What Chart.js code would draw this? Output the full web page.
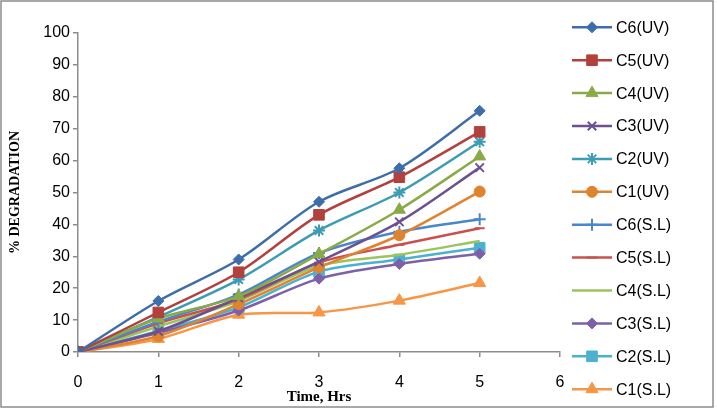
<!DOCTYPE html>
<html><head><meta charset="utf-8">
<script src="https://cdn.jsdelivr.net/npm/chart.js@4.4.1/dist/chart.umd.min.js"></script>
<style>html,body{margin:0;padding:0;background:#fff;}#wrap{width:717px;height:412px;}</style>
</head><body><div id="wrap"><canvas id="c" width="717" height="412"></canvas></div>
<script>
// ---- data ----
const hours = [0, 1, 2, 3, 4, 5];
const xTickValues = [0, 1, 2, 3, 4, 5, 6];
const yTickValues = [0, 10, 20, 30, 40, 50, 60, 70, 80, 90, 100];
const seriesNames = ['C6(UV)', 'C5(UV)', 'C4(UV)', 'C3(UV)', 'C2(UV)', 'C1(UV)',
                     'C6(S.L)', 'C5(S.L)', 'C4(S.L)', 'C3(S.L)', 'C2(S.L)', 'C1(S.L)'];
const c6UV = [0, 16.0, 29.0, 47.1, 57.6, 75.6];
const c5UV = [0, 12.4, 25.0, 43.0, 54.8, 69.0];
const c4UV = [0, 10.5, 17.5, 30.7, 44.6, 61.3];
const c3UV = [0, 6.5, 17.0, 28.3, 40.8, 57.8];
const c2UV = [0, 11.0, 22.7, 38.1, 50.0, 65.9];
const c1UV = [0, 5.0, 15.0, 26.5, 36.6, 50.3];
const c6SL = [0, 9.5, 18.0, 31.0, 37.7, 41.6];
const c5SL = [0, 9.0, 16.5, 28.0, 33.6, 38.8];
const c4SL = [0, 8.0, 16.0, 27.0, 30.5, 34.8];
const c3SL = [0, 6.0, 13.0, 23.0, 27.6, 30.8];
const c2SL = [0, 6.6, 14.0, 25.2, 29.0, 32.7];
const c1SL = [0, 4.1, 11.7, 12.4, 16.1, 21.6];

const seriesValues = [c6UV, c5UV, c4UV, c3UV, c2UV, c1UV, c6SL, c5SL, c4SL, c3SL, c2SL, c1SL];
const colors = ['#3E6DAA', '#B2403D', '#8AAA47', '#6B5190', '#3D9BB4', '#E0832F',
                '#4A86CC', '#C9504D', '#9CC35C', '#7E60A8', '#4AB1CF', '#F79646'];
const markers = [
  {s: 'rectRot', r: 5.5}, {s: 'rect', r: 7.5}, {s: 'triangle', r: 7}, {s: 'crossRot', r: 6, bw: 2}, {s: 'star', r: 6, bw: 2}, {s: 'circle', r: 5.5},
  {s: 'cross', r: 6, bw: 2}, {s: 'line', r: 5, bw: 2}, {s: 'circle', r: 0}, {s: 'rectRot', r: 5.5}, {s: 'rect', r: 7.5}, {s: 'triangle', r: 7}
];

const datasets = seriesNames.map((name, i) => ({
  label: name,
  data: hours.map((h, j) => ({x: h, y: seriesValues[i][j]})),
  borderColor: colors[i],
  backgroundColor: colors[i],
  borderWidth: 2.5,
  tension: 0.3,
  pointStyle: markers[i].s,
  pointRadius: markers[i].r,
  pointHoverRadius: markers[i].r,
  pointBackgroundColor: colors[i],
  pointBorderColor: colors[i],
  pointBorderWidth: markers[i].bw || 1,
  fill: false
}));

const frameAndLegend = {
  id: 'frameAndLegend',
  beforeDraw(chart) {
    const ctx = chart.ctx;
    ctx.save();
    ctx.fillStyle = '#fff';
    ctx.fillRect(0, 0, chart.width, chart.height);
    ctx.restore();
  },
  afterDraw(chart) {
    const ctx = chart.ctx;
    const x0 = chart.chartArea.right + 12;
    chart.data.datasets.forEach((ds, i) => {
      const y = 27.3 + i * 32.9;
      ctx.save();
      ctx.strokeStyle = ds.borderColor;
      ctx.lineWidth = ds.borderWidth;
      ctx.beginPath(); ctx.moveTo(x0, y); ctx.lineTo(x0 + 40, y); ctx.stroke();
      if (ds.pointRadius > 0) {
        ctx.fillStyle = ds.pointBackgroundColor;
        ctx.strokeStyle = ds.pointBorderColor;
        ctx.lineWidth = ds.pointBorderWidth;
        Chart.helpers.drawPoint(ctx, {pointStyle: ds.pointStyle, radius: ds.pointRadius, borderWidth: ds.pointBorderWidth, rotation: 0}, x0 + 20, y);
      }
      ctx.fillStyle = '#000';
      ctx.font = '16px "Liberation Sans"';
      ctx.textBaseline = 'middle';
      ctx.textAlign = 'left';
      ctx.fillText(ds.label, x0 + 44, y + 1);
      ctx.restore();
    });
    ctx.save();
    ctx.strokeStyle = '#8c8c8c';
    ctx.lineWidth = 1.5;
    ctx.strokeRect(1, 1, chart.width - 5, chart.height - 6);
    ctx.restore();
  }
};

new Chart(document.getElementById('c'), {
  type: 'line',
  data: {datasets},
  plugins: [frameAndLegend],
  options: {
    responsive: false,
    animation: false,
    devicePixelRatio: 1,
    layout: {padding: {top: 33, right: 157, left: 0, bottom: 0}},
    plugins: {legend: {display: false}, tooltip: {enabled: false}},
    scales: {
      x: {
        type: 'linear', min: 0, max: 6,
        afterFit(s) { s.height = 60; },
        afterBuildTicks(s) { s.ticks = xTickValues.map(v => ({value: v})); },
        ticks: {color: '#000', font: {family: 'Liberation Sans', size: 16}, padding: 16},
        grid: {drawOnChartArea: false, drawTicks: true, tickLength: 5, color: '#8c8c8c', lineWidth: 1.5},
        border: {display: true, color: '#8c8c8c', width: 1.5},
        title: {display: true, text: 'Time, Hrs', color: '#000', font: {family: 'Liberation Serif', weight: 'bold', size: 15}, padding: {top: 0, bottom: 6}}
      },
      y: {
        min: 0, max: 100,
        afterFit(s) { s.width = 78; },
        afterBuildTicks(s) { s.ticks = yTickValues.map(v => ({value: v})); },
        ticks: {color: '#000', font: {family: 'Liberation Sans', size: 16}, padding: 3},
        grid: {drawOnChartArea: false, drawTicks: true, tickLength: 5, color: '#8c8c8c', lineWidth: 1.5},
        border: {display: true, color: '#8c8c8c', width: 1.5},
        title: {display: true, text: '% DEGRADATION', color: '#000', font: {family: 'Liberation Serif', weight: 'bold', size: 14}, padding: {top: 7, bottom: 0}}
      }
    }
  }
});
</script>
</body></html>
